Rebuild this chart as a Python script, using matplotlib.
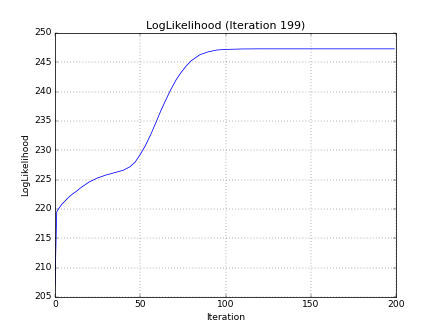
import matplotlib
matplotlib.use('Agg')
import matplotlib.pyplot as plt

plt.style.use('classic')

# log-likelihood per iteration
iters = [0, 1, 2, 4, 6, 8, 10, 12, 15, 20, 25, 30, 35, 40, 44, 47, 50, 53, 56,
         59, 62, 65, 68, 71, 74, 77, 80, 85, 90, 95, 100, 110, 120, 140, 170, 199]
loglik = [207.0, 219.5, 220.0, 220.8, 221.4, 222.0, 222.5, 222.9, 223.6, 224.6,
          225.3, 225.8, 226.2, 226.6, 227.2, 228.0, 229.3, 230.8, 232.6, 234.6,
          236.7, 238.6, 240.4, 242.0, 243.3, 244.4, 245.3, 246.3, 246.8, 247.1,
          247.2, 247.28, 247.3, 247.3, 247.3, 247.3]

fig = plt.figure(figsize=(8, 6), facecolor='white')
ax = fig.add_subplot(111)
ax.plot(iters, loglik, color='b')
ax.set_xlim(0, 200)
ax.set_ylim(205, 250)
ax.grid(True)
ax.set_title('LogLikelihood (Iteration 199)')
ax.set_xlabel('Iteration')
ax.set_ylabel('LogLikelihood')

fig.savefig('out.png', dpi=55, facecolor='white')
